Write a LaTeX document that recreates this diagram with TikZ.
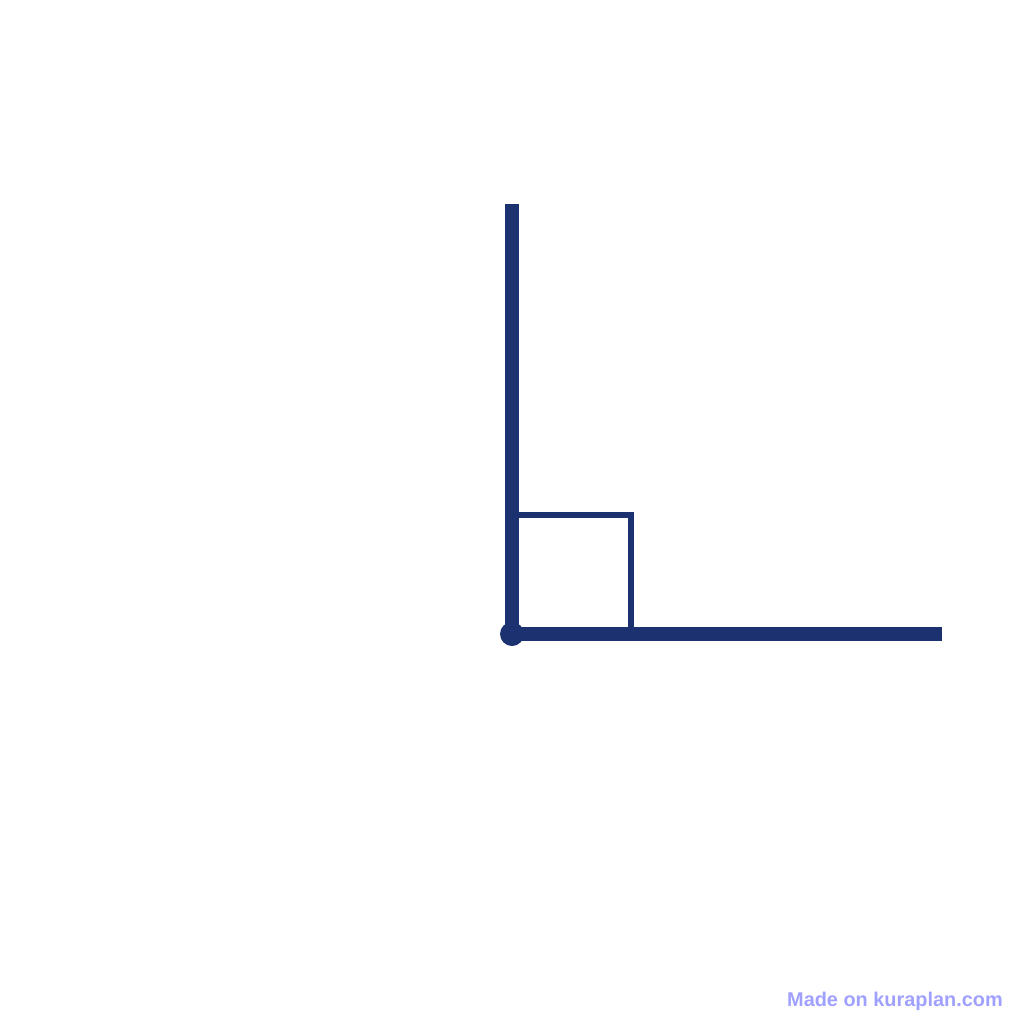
\documentclass[tikz,border=0pt]{standalone}
\usepackage{fontspec}
\setmainfont{Liberation Sans}
\usetikzlibrary{positioning}
\definecolor{navy}{RGB}{28,49,112}
\definecolor{stamp}{RGB}{160,160,255}
\tikzstyle{ray}=[draw=navy,line width=14pt]
\tikzstyle{rightmark}=[draw=navy,line width=6pt]
\tikzstyle{vertex}=[circle,fill=navy,inner sep=0pt,minimum size=24pt]
\tikzstyle{credit}=[text=stamp,font=\bfseries\fontsize{19.9}{22}\selectfont,inner sep=0pt]

\begin{document}
\begin{tikzpicture}[x=1pt,y=-1pt]
            \useasboundingbox (0,0) rectangle (1024,1024);

            % ANGLE PART

            \coordinate (o) at (512,634);
            \coordinate (a) at (512,204);
            \coordinate (b) at (942,634);
            \coordinate (s1) at (512,515);
            \coordinate (s2) at (631,515);
            \coordinate (s3) at (631,634);

            \draw[rightmark] (s1) -- (s2) -- (s3);
            \path[ray] (o) edge (a);
            \path[ray] (o) edge (b);
            \node[vertex] (v) at (o) {};

            % CREDIT PART

            \node[credit,anchor=base east] (c) at (1003,1006) {Made on kuraplan.com};
\end{tikzpicture}
\end{document}
